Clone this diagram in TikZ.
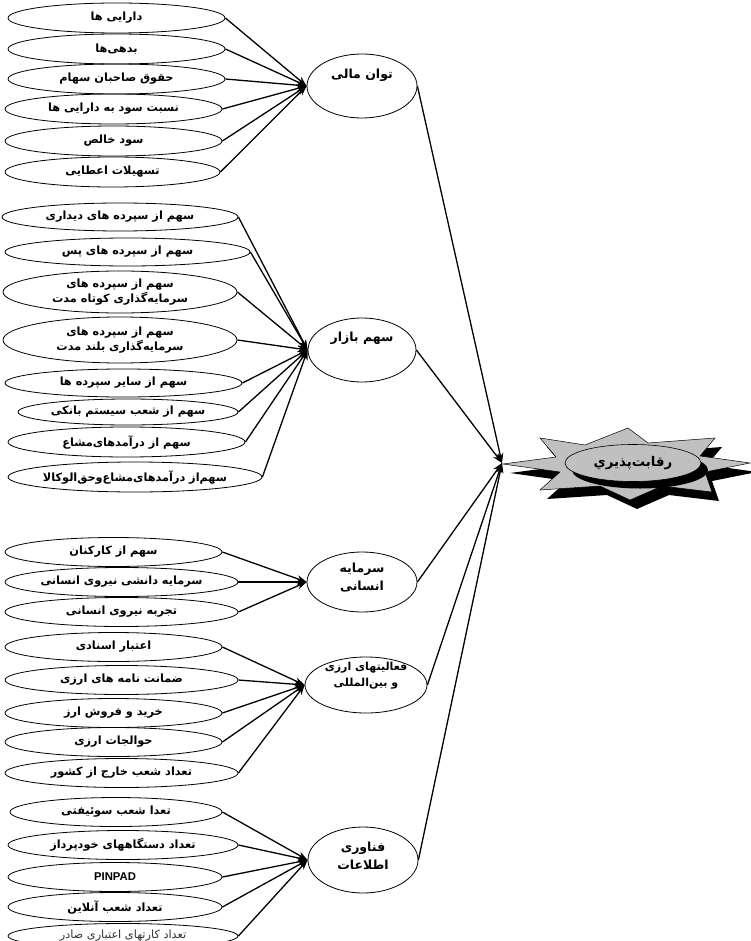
\documentclass[tikz,border=0pt]{standalone}
\usepackage{fontspec}
\setmainfont{Liberation Sans}
\newfontfamily\arabicfont[Script=Arabic]{DejaVu Sans}
\TeXXeTstate=1
\usetikzlibrary{shapes.geometric,arrows.meta}
\definecolor{starGray}{RGB}{192,192,192}
\newcommand\fa{\arabicfont\bfseries}
\newcommand\faN{\arabicfont}
\begin{document}
\begin{tikzpicture}[x=1pt,y=-1pt,
  leaf/.style={ellipse, draw, line width=0.8pt, inner sep=0pt},
  hub/.style={ellipse, draw, line width=0.8pt, inner sep=0pt},
  lbl/.style={font=\fontsize{11.3}{15}\selectfont, align=center, inner sep=0pt},
  hlbl/.style={font=\fontsize{12.5}{18}\selectfont, align=center, inner sep=0pt},
  conn/.style={line width=1.3pt, -{Stealth[length=10pt,width=7pt]}},
]
\useasboundingbox[fill=white] (0,0) rectangle (751,941);

% ---------- group 1 ----------
\node[leaf, minimum width=217pt, minimum height=30pt, label={[lbl]center:{\fa\beginR دارایی ها\endR}}] (a1) at (116.5,18) {};
\node[leaf, minimum width=217pt, minimum height=30pt, label={[lbl]center:{\fa\beginR بدهی‌ها\endR}}] (a2) at (116.5,49) {};
\node[leaf, minimum width=217pt, minimum height=30pt, label={[lbl]center:{\fa\beginR حقوق صاحبان سهام\endR}}] (a3) at (116.5,79) {};
\node[leaf, minimum width=217pt, minimum height=30pt, label={[lbl]center:{\fa\beginR نسبت سود به دارایی ها\endR}}] (a4) at (113.5,109) {};
\node[leaf, minimum width=217pt, minimum height=30pt, label={[lbl]center:{\fa\beginR سود خالص\endR}}] (a5) at (113.5,141) {};
\node[leaf, minimum width=215pt, minimum height=30pt, label={[lbl]center:{\fa\beginR تسهیلات اعطایی\endR}}] (a6) at (112.5,172) {};

% ---------- group 2 ----------
\node[leaf, minimum width=236pt, minimum height=28pt, label={[lbl]center:{\fa\beginR سهم از سپرده های دیداری\endR}}] (b1) at (120,217) {};
\node[leaf, minimum width=245pt, minimum height=28pt, label={[lbl]center:{\fa\beginR سهم از سپرده های پس\endR}}] (b2) at (127.5,252) {};
\node[leaf, minimum width=234pt, minimum height=42pt, label={[lbl]center:{\fa\beginR سهم از سپرده های\endR}\\{\fa\beginR سرمایه‌گذاری کوتاه مدت\endR}}] (b3) at (120,292) {};
\node[leaf, minimum width=234pt, minimum height=46pt, label={[lbl]center:{\fa\beginR سهم از سپرده های\endR}\\{\fa\beginR سرمایه‌گذاری بلند مدت\endR}}] (b4) at (120,340) {};
\node[leaf, minimum width=237pt, minimum height=28pt, label={[lbl]center:{\fa\beginR سهم از سایر سپرده ها\endR}}] (b5) at (123.5,383) {};
\node[leaf, minimum width=220pt, minimum height=26pt, label={[lbl]center:{\fa\beginR سهم از شعب سیستم بانکی\endR}}] (b6) at (128,412) {};
\node[leaf, minimum width=237pt, minimum height=30pt, label={[lbl]center:{\fa\beginR سهم از درآمدهای‌مشاع\endR}}] (b7) at (126.5,442) {};
\node[leaf, minimum width=254pt, minimum height=30pt, label={[lbl]center:{\fa\beginR سهم‌از درآمدهای‌مشاع‌وحق‌الوکالا\endR}}] (b8) at (135,477) {};

% ---------- group 3 ----------
\node[leaf, minimum width=217pt, minimum height=29pt, label={[lbl]center:{\fa\beginR سهم از کارکنان\endR}}] (c1) at (113.5,552) {};
\node[leaf, minimum width=233pt, minimum height=29pt, label={[lbl]center:{\fa\beginR سرمایه دانشی نیروی انسانی\endR}}] (c2) at (121.5,582) {};
\node[leaf, minimum width=233pt, minimum height=29pt, label={[lbl]center:{\fa\beginR تجربه نیروی انسانی\endR}}] (c3) at (121.5,612) {};

% ---------- group 4 ----------
\node[leaf, minimum width=217pt, minimum height=29pt, label={[lbl]center:{\fa\beginR اعتبار اسنادی\endR}}] (d1) at (113.5,647) {};
\node[leaf, minimum width=233pt, minimum height=29pt, label={[lbl]center:{\fa\beginR ضمانت نامه های ارزی\endR}}] (d2) at (121.5,680) {};
\node[leaf, minimum width=217pt, minimum height=29pt, label={[lbl]center:{\fa\beginR خرید و فروش ارز\endR}}] (d3) at (113.5,713) {};
\node[leaf, minimum width=217pt, minimum height=29pt, label={[lbl]center:{\fa\beginR حوالجات ارزی\endR}}] (d4) at (113.5,742) {};
\node[leaf, minimum width=233pt, minimum height=29pt, label={[lbl]center:{\fa\beginR تعداد شعب خارج از کشور\endR}}] (d5) at (121.5,773) {};

% ---------- group 5 ----------
\node[leaf, minimum width=212pt, minimum height=29pt, label={[lbl]center:{\fa\beginR تعدا شعب سوئیفتی\endR}}] (e1) at (116,812) {};
\node[leaf, minimum width=230pt, minimum height=29pt, label={[lbl]center:{\fa\beginR تعداد دستگاههای خودپرداز\endR}}] (e2) at (123,845) {};
\node[leaf, minimum width=214pt, minimum height=29pt, label={[lbl]center:\textbf{PINPAD}}] (e3) at (115,877) {};
\node[leaf, minimum width=214pt, minimum height=29pt, label={[lbl]center:{\fa\beginR تعداد شعب آنلاین\endR}}] (e4) at (115,907) {};
\node[leaf, minimum width=230pt, minimum height=25pt, label={[lbl,text=black!80]center:{\faN\beginR تعداد کارتهای اعتباری صادر\endR}}] (e5) at (123,936) {};

% ---------- hubs ----------
\node[hub, minimum width=110pt, minimum height=64pt, label={[hlbl,yshift=11pt]center:{\fa\beginR توان مالی\endR}}] (A) at (362,86) {};
\node[hub, minimum width=108pt, minimum height=64pt, label={[hlbl,yshift=12pt]center:{\fa\beginR سهم بازار\endR}}] (B) at (362,350) {};
\node[hub, minimum width=110pt, minimum height=60pt, label={[hlbl,yshift=4pt]center:{\fa\beginR سرمایه\endR}\\{\fa\beginR انسانی\endR}}] (C) at (362,582) {};
\node[hub, minimum width=122pt, minimum height=56pt, label={[hlbl,font=\fontsize{11}{16}\selectfont,yshift=9pt]center:{\fa\beginR فعالیتهای ارزی\endR}\\{\fa\beginR و بین‌المللی\endR}}] (D) at (366,685) {};
\node[hub, minimum width=110pt, minimum height=66pt, label={[hlbl,yshift=4pt]center:{\fa\beginR فناوری\endR}\\{\fa\beginR اطلاعات\endR}}] (E) at (363,860) {};

% ---------- star ----------
\def\starpath{(503,464) -- (556,457) -- (540,438) -- (585,445) -- (628,428) -- (648,443) -- (715,438) -- (700,456) -- (750,463) -- (705,472) -- (712,492) -- (662,486) -- (630,500) -- (600,486) -- (540,490) -- (560,472) -- cycle}
\fill[black, shift={(7,9)}] \starpath;
\filldraw[fill=starGray, draw=black, line width=0.5pt] \starpath;
\fill[black] (640,470) ellipse [x radius=68, y radius=18.5];
\node[ellipse, draw, line width=0.6pt, fill=starGray, inner sep=0pt, minimum width=136pt, minimum height=37pt, font=\fontsize{13.3}{15}\selectfont] (R) at (633,463) {{\fa\beginR رقابت‌پذيري\endR}};
\coordinate (S) at (502,463);

% ---------- connectors ----------
\foreach \n in {a1,a2,a3,a4,a5,a6} \draw[conn] (\n.east) -- (A.west);
\foreach \n in {b1,b2,b3,b4,b5,b6,b7,b8} \draw[conn] (\n.east) -- (B.west);
\foreach \n in {c1,c2,c3} \draw[conn] (\n.east) -- (C.west);
\foreach \n in {d1,d2,d3,d4,d5} \draw[conn] (\n.east) -- (D.west);
\foreach \n in {e1,e2,e3,e4,e5} \draw[conn] (\n.east) -- (E.west);
\foreach \n in {A,B,C,D,E} \draw[conn] (\n.east) -- (S);
\end{tikzpicture}
\end{document}
